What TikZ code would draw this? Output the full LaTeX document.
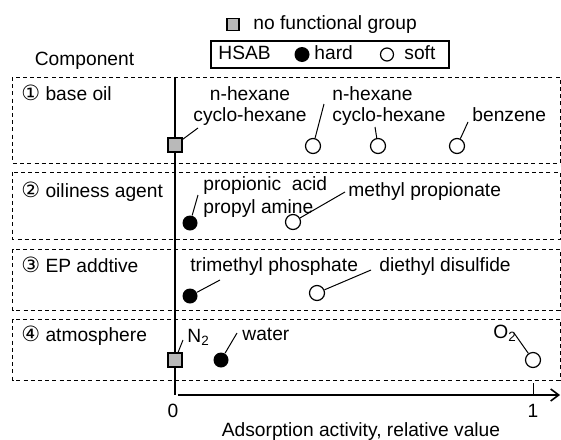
\documentclass[tikz,border=0pt]{standalone}
\usepackage{fontspec}
\setmainfont{Liberation Sans}
\newfontfamily\circfont{DejaVu Sans}
\usetikzlibrary{arrows.meta}
\tikzset{
  rowbox/.style   = {draw, line width=0.5pt, dash pattern=on 2pt off 1.6pt},
  axisline/.style = {line width=1.4pt},
  nofg/.style     = {draw, fill=gray!55, line width=0.6pt, minimum size=7pt, inner sep=0pt},
  hard/.style     = {circle, fill=black, minimum size=7.5pt, inner sep=0pt},
  soft/.style     = {circle, draw, fill=white, line width=0.6pt, minimum size=7.5pt, inner sep=0pt},
  leader/.style   = {line width=0.5pt},
  txt/.style      = {inner sep=0pt, anchor=west, text height=6.8pt, text depth=1.8pt},
  txtml/.style    = {inner sep=0pt, align=left, anchor=west},
}
\newcommand{\cnum}[1]{{\circfont\fontsize{10.5}{10}\selectfont #1}}

\begin{document}
\begin{tikzpicture}[x=0.5pt, y=-0.5pt, font=\fontsize{9.6}{10.5}\selectfont]
    \useasboundingbox (0,0) rectangle (561,439);

    % Legend
    \node[nofg, minimum size=6pt] (lgsq) at (233,24.5) {};
    \node[txt] (lgnofg) at (253,24) {no functional group};
    \node[draw, line width=0.6pt, minimum width=119pt, minimum height=13.5pt, inner sep=0pt] (hsab) at (330,54.5) {};
    \node[txt] (lghsab) at (218,54.5) {HSAB};
    \node[hard] (lghard) at (302,54.5) {};
    \node[txt] (lghardt) at (314,54.5) {hard};
    \node[soft, minimum size=6.5pt] (lgsoft) at (387,54.5) {};
    \node[txt] (lgsoftt) at (404,54.5) {soft};
    \node[txt, anchor=center] (comp) at (84.5,60) {Component};

    % Component rows
    \draw[rowbox] (12.5,77) rectangle (560,163);
    \draw[rowbox] (12.5,172) rectangle (560,239);
    \draw[rowbox] (12.5,249) rectangle (560,310);
    \draw[rowbox] (12.5,319) rectangle (560,380);
    \node[txt] (row1) at (21,95) {\cnum{①} base oil};
    \node[txt] (row2) at (21,192) {\cnum{②} oiliness agent};
    \node[txt] (row3) at (21,267) {\cnum{③} EP addtive};
    \node[txt] (row4) at (21,336) {\cnum{④} atmosphere};

    % Axes
    \coordinate (ytop) at (175,77);
    \coordinate (orig) at (175,395);
    \coordinate (xstart) at (178,395);
    \coordinate (xend) at (560,395);
    \draw[axisline] (ytop) -- (orig);
    \draw[axisline, -{Straight Barb[length=4pt, width=6pt, line width=0.8pt]}] (xstart) -- (xend);
    \coordinate (tick1) at (533,383);
    \draw[leader] (tick1) -- (tick1 |- xend);
    \node[txt, anchor=center] (zero) at (173,412) {0};
    \node[txt, anchor=center] (one) at (533,412) {1};
    \node[txt, anchor=center] (xlabel) at (361,431) {Adsorption activity, relative value};

    % Row 1: base oil
    \node[nofg] (sq1) at (175,145) {};
    \node[soft] (s1a) at (313,146) {};
    \node[soft] (s1b) at (378,146) {};
    \node[soft] (s1c) at (457,146) {};
    \node[txtml, align=center, anchor=center] (hex1) at (250,106.5) {n-hexane\\cyclo-hexane};
    \node[txtml] (hex2) at (332,106.5) {n-hexane\\cyclo-hexane};
    \node[txt] (benz) at (472,116) {benzene};
    \coordinate (l1sq) at (198,128);
    \coordinate (l1a) at (324,104);
    \coordinate (l1b) at (375,127);
    \coordinate (l1c) at (468,122);
    \draw[leader] (sq1) -- (l1sq);
    \draw[leader] (s1a) -- (l1a);
    \draw[leader] (s1b) -- (l1b);
    \draw[leader] (s1c) -- (l1c);

    % Row 2: oiliness agent
    \node[hard] (h2) at (190,223) {};
    \node[soft] (s2) at (293,222) {};
    \node[txtml] (acid) at (203,197.5) {propionic\ \ acid\\[1pt]propyl amine};
    \node[txt] (mprop) at (348,191) {methyl propionate};
    \coordinate (l2h) at (198,195);
    \coordinate (l2s) at (345,192);
    \draw[leader] (h2) -- (l2h);
    \draw[leader] (s2) -- (l2s);

    % Row 3: EP additive
    \node[hard] (h3) at (190,296) {};
    \node[soft] (s3) at (317,293) {};
    \node[txt] (tmp) at (190,266) {trimethyl phosphate};
    \node[txt] (dds) at (379,266) {diethyl disulfide};
    \coordinate (l3h) at (220,280);
    \coordinate (l3s) at (371,270);
    \draw[leader] (h3) -- (l3h);
    \draw[leader] (s3) -- (l3s);

    % Row 4: atmosphere
    \node[nofg] (sq4) at (175,360) {};
    \node[hard] (h4) at (221,360) {};
    \node[soft] (s4) at (533,360) {};
    \node[txt] (nitro) at (187,337) {N\textsubscript{2}};
    \node[txt] (water) at (242,335) {water};
    \node[txt] (oxy) at (493,333) {O\textsubscript{2}};
    \coordinate (l4sq) at (183,340);
    \coordinate (l4h) at (237,333);
    \coordinate (l4s) at (514,333);
    \draw[leader] (sq4) -- (l4sq);
    \draw[leader] (h4) -- (l4h);
    \draw[leader] (s4) -- (l4s);
\end{tikzpicture}
\end{document}
